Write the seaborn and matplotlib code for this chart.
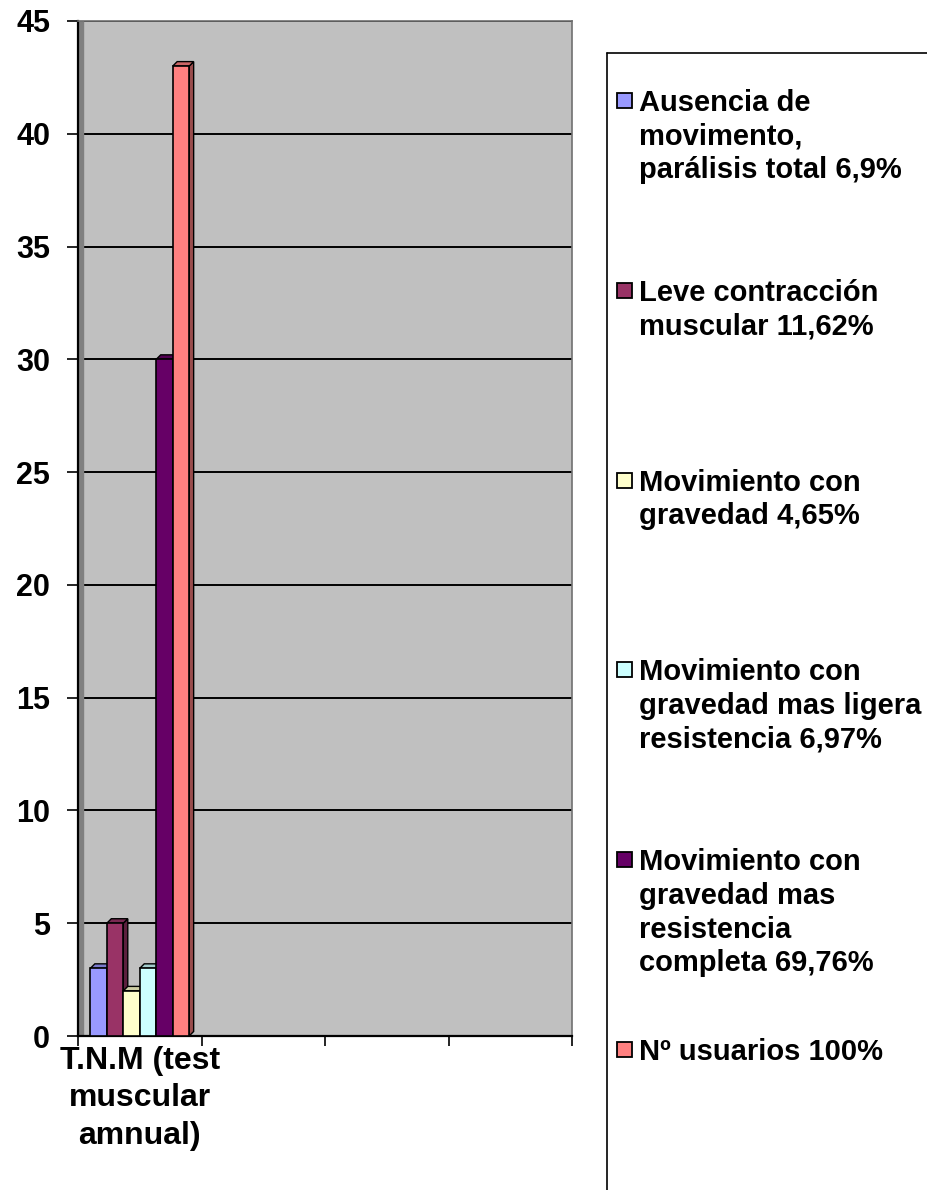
import pandas as pd
import matplotlib.pyplot as plt
import seaborn as sns
from matplotlib.patches import Polygon, Rectangle
from matplotlib.lines import Line2D
from matplotlib.colors import to_rgb

# data
categoria = "T.N.M (test\nmuscular\namnual)"
series = [
    "Ausencia de\nmovimento,\nparálisis total 6,9%",
    "Leve contracción\nmuscular 11,62%",
    "Movimiento con\ngravedad 4,65%",
    "Movimiento con\ngravedad mas ligera\nresistencia 6,97%",
    "Movimiento con\ngravedad mas\nresistencia\ncompleta 69,76%",
    "Nº usuarios 100%",
]
valores = [3, 5, 2, 3, 30, 43]
colores = ["#9999FF", "#993366", "#FFFFCC", "#CCFFFF", "#660066", "#FF8080"]
yticks = [0, 5, 10, 15, 20, 25, 30, 35, 40, 45]

df = pd.DataFrame({"categoria": [categoria] * len(series), "serie": series, "valor": valores})

sns.set_style("white")
plt.rcParams["font.family"] = ["Liberation Sans", "DejaVu Sans"]
plt.rcParams["font.weight"] = "bold"
plt.rcParams["text.color"] = "black"
plt.rcParams["xtick.color"] = "black"
plt.rcParams["ytick.color"] = "black"
FS = 21

W, H = 927, 1190
fig = plt.figure(figsize=(W / 100, H / 100), dpi=100)
ax = fig.add_axes([78 / W, 154 / H, 494 / W, 1015 / H])
ax.set_facecolor("#C0C0C0")

sns.barplot(data=df, x="categoria", y="valor", hue="serie", hue_order=series,
            palette=colores, width=0.8, saturation=1, edgecolor="black",
            linewidth=1.2, legend=False, ax=ax)

ax.set_xlim(-0.5, 3.5)
ax.set_ylim(0, 45)

# fake 3D depth on each bar (side + top faces)
dx = 4.5 / (494 / 4)
dy = 4.5 / (1015 / 45)
bars = sorted(ax.patches, key=lambda p: p.get_x())
for i, p in enumerate(bars):
    x0, w, h = p.get_x(), p.get_width(), p.get_height()
    x1 = x0 + w
    c = to_rgb(p.get_facecolor())
    side = tuple(v * 0.6 for v in c)
    top = tuple(v * 0.8 for v in c)
    z = 10 + 2 * i
    ax.add_patch(Polygon([(x1, 0), (x1 + dx, dy), (x1 + dx, h + dy), (x1, h)],
                         closed=True, fc=side, ec="black", lw=1.0, zorder=z))
    ax.add_patch(Polygon([(x0, h), (x0 + dx, h + dy), (x1 + dx, h + dy), (x1, h)],
                         closed=True, fc=top, ec="black", lw=1.0, zorder=z))
    p.set_zorder(z + 1)

# left wall strip
ax.axvspan(-0.5, -0.5 + dx, color="#808080", zorder=1)

ax.set_yticks(yticks)
ax.set_yticklabels([str(t) for t in yticks], fontsize=22, fontweight="bold")
ax.yaxis.grid(True, color="black", lw=1.4)
ax.set_axisbelow(True)

ax.set_xticks([-0.5, 0.5, 1.5, 2.5, 3.5])
ax.set_xticklabels([""] * 5)
ax.set_xticks([0], labels=[categoria], minor=True)
ax.tick_params(axis="x", which="minor", length=0, pad=7, labelsize=23)
for lab in ax.get_xticklabels(minor=True):
    lab.set_fontweight("bold")
    lab.set_linespacing(1.33)
ax.tick_params(axis="x", which="major", length=7, width=1.2, direction="out")
ax.tick_params(axis="y", length=8, width=1.2, direction="out", pad=12)
ax.tick_params(bottom=True, left=True)
ax.set_xlabel("")
ax.set_ylabel("")

for s in ["left", "bottom"]:
    ax.spines[s].set_color("black")
    ax.spines[s].set_linewidth(1.6)
for s in ["top", "right"]:
    ax.spines[s].set_color("#707070")
    ax.spines[s].set_linewidth(1.2)

# legend box, Excel style: entries evenly spaced, frame runs off the page
fig.add_artist(Line2D([607 / W, 607 / W], [0, 1 - 53 / H], color="black", lw=1.2))
fig.add_artist(Line2D([607 / W, 1], [1 - 53 / H, 1 - 53 / H], color="black", lw=1.2))
for i, (lab, col) in enumerate(zip(series, colores)):
    ytop = 89 + 189.8 * i
    fig.add_artist(Rectangle((617 / W, 1 - (ytop + 19) / H), 15 / W, 15 / H,
                             fc=col, ec="black", lw=1.3, transform=fig.transFigure))
    fig.text(639 / W, 1 - ytop / H, lab, fontsize=FS, fontweight="bold",
             ha="left", va="top", linespacing=1.26)

fig.savefig("out.png", dpi=100)
